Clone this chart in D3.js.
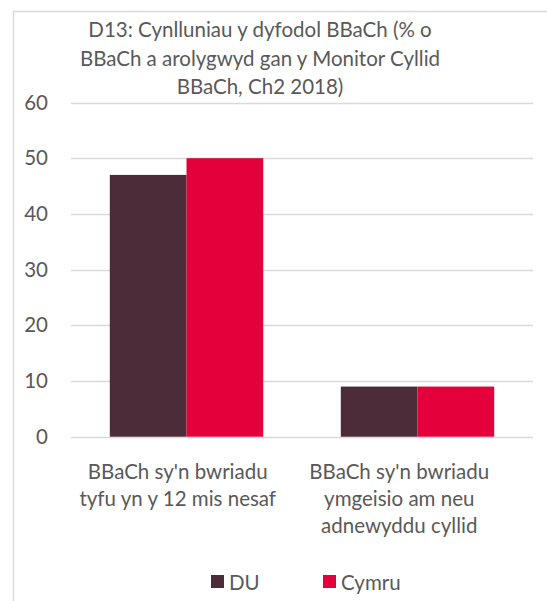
<!DOCTYPE html>
<html>
<head>
<meta charset="utf-8">
<script src="https://cdn.jsdelivr.net/npm/d3@7"></script>
<style>
  body { margin: 0; background: #fff; }
  svg text { font-family: Lato, "Open Sans", sans-serif; fill: #595959; }
</style>
</head>
<body>
<div class="bar-chart"></div>
<script>
// chart data
var titleLines = ["D13: Cynlluniau y dyfodol BBaCh (% o", "BBaCh a arolygwyd gan y Monitor Cyllid", "BBaCh, Ch2 2018)"];
var categories = ["tyfu", "cyllid"];
var categoryLabels = [
    ["BBaCh sy'n bwriadu", "tyfu yn y 12 mis nesaf"],
    ["BBaCh sy'n bwriadu", "ymgeisio am neu", "adnewyddu cyllid"]
];
var seriesNames = ["DU", "Cymru"];
var valuesDU = [47, 9];
var valuesCymru = [50, 9];
var yTicks = [0, 10, 20, 30, 40, 50, 60];

var colors = ["#4b2c38", "#e4003b"];
var width = 547, height = 601;
var fontSize = 20.5;

var svg = d3.select(".bar-chart")
    .append("svg")
    .attr("width", width)
    .attr("height", height);

// chart frame (only top and left edges fall inside the picture)
svg.append("path")
    .attr("d", "M13.5," + height + "V11.5H" + width)
    .attr("fill", "none")
    .attr("stroke", "#d9d9d9")
    .attr("stroke-width", 1.5);

var x = d3.scaleBand()
    .domain(categories)
    .range([71, 533])
    .paddingInner(0.336)
    .paddingOuter(0.168);

var xs = d3.scaleBand()
    .domain(seriesNames)
    .range([0, x.bandwidth()]);

// labels sit a little left of the bar groups, as in the original
var xLabel = d3.scaleBand()
    .domain(categories)
    .range([67, 510]);

var y = d3.scaleLinear()
    .domain([0, 60])
    .range([436.7, 102.5]);

// gridlines
svg.append("g")
    .selectAll("line")
    .data(yTicks)
    .enter()
    .append("line")
    .attr("x1", 71)
    .attr("x2", 533)
    .attr("y1", function(d) { return Math.round(y(d)) + 0.5; })
    .attr("y2", function(d) { return Math.round(y(d)) + 0.5; })
    .attr("stroke", "#d9d9d9")
    .attr("stroke-width", 1.3);

// y tick labels
svg.append("g")
    .selectAll("text")
    .data(yTicks)
    .enter()
    .append("text")
    .attr("x", 48)
    .attr("y", function(d) { return y(d); })
    .attr("dy", "0.35em")
    .attr("text-anchor", "end")
    .style("font-size", fontSize + "px")
    .text(function(d) { return d; });

// bars
var table = categories.map(function(c, i) {
    return { cat: c, vals: [valuesDU[i], valuesCymru[i]] };
});

var groups = svg.append("g")
    .selectAll("g")
    .data(table)
    .enter()
    .append("g")
    .attr("transform", function(d) { return "translate(" + x(d.cat) + ",0)"; });

groups.selectAll("rect")
    .data(function(d) { return d.vals.map(function(v, j) { return { name: seriesNames[j], value: v, idx: j }; }); })
    .enter()
    .append("rect")
    .attr("x", function(d) { return xs(d.name); })
    .attr("width", xs.bandwidth())
    .attr("y", function(d) { return y(d.value); })
    .attr("height", function(d) { return y(0) - y(d.value); })
    .attr("fill", function(d) { return colors[d.idx]; });

// category labels
svg.append("g")
    .selectAll("text")
    .data(categories)
    .enter()
    .append("text")
    .attr("text-anchor", "middle")
    .style("font-size", fontSize + "px")
    .each(function(c, i) {
        var t = d3.select(this);
        categoryLabels[i].forEach(function(line, k) {
            t.append("tspan")
                .attr("x", xLabel(c) + xLabel.bandwidth() / 2)
                .attr("y", 479 + k * 27.2)
                .text(line);
        });
    });

// title
svg.append("text")
    .attr("text-anchor", "middle")
    .style("font-size", fontSize + "px")
    .selectAll("tspan")
    .data(titleLines)
    .enter()
    .append("tspan")
    .attr("x", 260)
    .attr("y", function(d, i) { return 37 + i * 28.5; })
    .text(function(d) { return d; });

// legend
var legend = svg.append("g")
    .selectAll("g")
    .data(seriesNames)
    .enter()
    .append("g")
    .attr("transform", function(d, i) { return "translate(" + (211 + i * 112) + ",575)"; });

legend.append("rect")
    .attr("width", 13)
    .attr("height", 13)
    .attr("fill", function(d, i) { return colors[i]; });

legend.append("text")
    .attr("x", 18)
    .attr("y", 15)
    .style("font-size", fontSize + "px")
    .text(function(d) { return d; });
</script>
</body>
</html>
